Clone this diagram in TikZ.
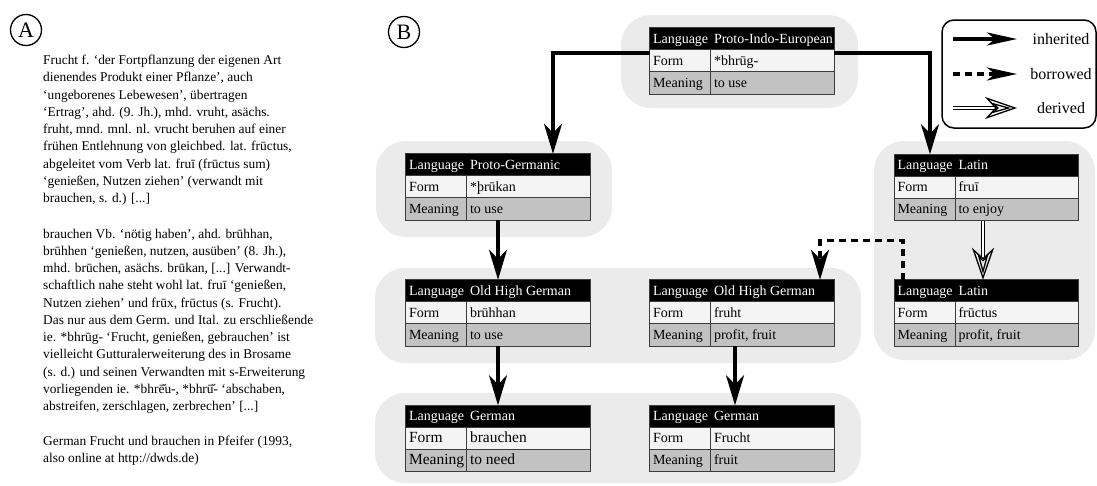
\documentclass[tikz,border=0pt]{standalone}
\usepackage{fontspec}
\setmainfont{Liberation Serif}
\usetikzlibrary{arrows.meta,calc}

\definecolor{blobgray}{HTML}{EBEBEB}
\definecolor{formgray}{HTML}{F4F4F4}
\definecolor{meangray}{HTML}{C2C2C2}
\definecolor{cellgray}{HTML}{3C3C3C}

\tikzset{
  blob/.style={fill=blobgray, rounded corners=30pt},
  langtab/.style={rectangle, minimum width=184pt, minimum height=66pt, inner sep=0pt},
  cellline/.style={draw=cellgray, line width=0.8pt},
  celltext/.style={anchor=base west, inner sep=0pt, font=\fontsize{14}{16}\selectfont},
  entrytext/.style={anchor=north west, inner sep=0pt, align=left, font=\fontsize{13.4}{17.25}\selectfont},
  inherit/.style={line width=3.2pt, -{Stealth[length=30pt,width=18pt,inset=9pt]}},
  borrow/.style={inherit, dash pattern=on 7pt off 5pt},
  derive/.style={double, double distance=2.2pt, line width=1.3pt,
    -{Stealth[open,length=20pt,width=11pt,inset=6pt,sep=-26pt]Stealth[open,length=32pt,width=22pt,inset=10pt]}},
  panel/.style={circle, draw, line width=1.3pt, minimum size=31pt, inner sep=0pt, font=\fontsize{22}{22}\selectfont},
  keytext/.style={font=\fontsize{16}{18}\selectfont, inner sep=0pt}
}

% #1 font of rows 2-3, #2 name, #3 centre, #4 language, #5 form, #6 meaning
\newcommand{\langbox}[6][]{%
  \node[langtab] (#2) at (#3) {};
  \fill[black] (#2.north west) rectangle ([yshift=-22pt]#2.north east);
  \fill[formgray] ([yshift=-22pt]#2.north west) rectangle ([yshift=-44pt]#2.north east);
  \fill[meangray] ([yshift=-44pt]#2.north west) rectangle (#2.south east);
  \draw[cellline] ([yshift=-22pt]#2.north west) -- ([yshift=-22pt]#2.north east)
    ([yshift=-44pt]#2.north west) -- ([yshift=-44pt]#2.north east)
    ([xshift=61pt,yshift=-22pt]#2.north west) -- ([xshift=61pt]#2.south west);
  \draw[cellline] (#2.north west) rectangle (#2.south east);
  \node[celltext,text=white] (#2-l) at ([xshift=3pt,yshift=-15.5pt]#2.north west) {Language};
  \node[celltext,text=white] (#2-lv) at ([xshift=64pt,yshift=-15.5pt]#2.north west) {#4};
  \node[celltext,#1] (#2-f) at ([xshift=3pt,yshift=-37.5pt]#2.north west) {Form};
  \node[celltext,#1] (#2-fv) at ([xshift=64pt,yshift=-37.5pt]#2.north west) {#5};
  \node[celltext,#1] (#2-m) at ([xshift=3pt,yshift=-59.5pt]#2.north west) {Meaning};
  \node[celltext,#1] (#2-mv) at ([xshift=64pt,yshift=-59.5pt]#2.north west) {#6};
}

\begin{document}
\begin{tikzpicture}[x=1pt,y=-1pt]
\useasboundingbox (0,0) rectangle (1097,485);

% panel A: dictionary entries
\node[panel] (panelA) at (26,30) {A};
\node[entrytext] (frucht) at (43,55) {%
Frucht f. ‘der Fortpflanzung der eigenen Art\\
dienendes Produkt einer Pflanze’, auch\\
‘ungeborenes Lebewesen’, übertragen\\
‘Ertrag’, ahd. (9. Jh.), mhd. vruht, asächs.\\
fruht, mnd. mnl. nl. vrucht beruhen auf einer\\
frühen Entlehnung von gleichbed. lat. frūctus,\\
abgeleitet vom Verb lat. fruī (frūctus sum)\\
‘genießen, Nutzen ziehen’ (verwandt mit\\
brauchen, s. d.) [...]};
\node[entrytext] (brauchen) at (43,228.5) {%
brauchen Vb. ‘nötig haben’, ahd. brūhhan,\\
brūhhen ‘genießen, nutzen, ausüben’ (8. Jh.),\\
mhd. brūchen, asächs. brūkan, [...] Verwandt-\\
schaftlich nahe steht wohl lat. fruī ‘genießen,\\
Nutzen ziehen’ und frūx, frūctus (s. Frucht).\\
Das nur aus dem Germ. und Ital. zu erschließende\\
ie. *bhrūg- ‘Frucht, genießen, gebrauchen’ ist\\
vielleicht Gutturalerweiterung des in Brosame\\
(s. d.) und seinen Verwandten mit s-Erweiterung\\
vorliegenden ie. *bhrē̆u-, *bhrū̆- ‘abschaben,\\
abstreifen, zerschlagen, zerbrechen’ [...]};
\node[entrytext] (source) at (43,435.5) {%
German Frucht und brauchen in Pfeifer (1993,\\
also online at http://dwds.de)};

% panel B: etymology graph
\node[panel] (panelB) at (404,32) {B};

\fill[blob] (621,15) rectangle (858,108);
\fill[blob] (376,141) rectangle (612,237);
\fill[blob] (874,141) rectangle (1095,360);
\fill[blob] (375,268) rectangle (861,363);
\fill[blob] (375,393) rectangle (861,483);

\langbox{pie}{742,61}{Proto-Indo-European}{*bhrūg-}{to use}
\langbox{pgm}{498,187}{Proto-Germanic}{*þrūkan}{to use}
\langbox{lat}{986.5,187.5}{Latin}{fruī}{to enjoy}
\langbox{ohgl}{498,313}{Old High German}{brūhhan}{to use}
\langbox{ohgr}{742,313}{Old High German}{fruht}{profit, fruit}
\langbox{latd}{986.5,313}{Latin}{frūctus}{profit, fruit}
\langbox[font=\fontsize{15.5}{17}\selectfont]{gerl}{498,438.5}{German}{brauchen}{to need}
\langbox{gerr}{742,438.5}{German}{Frucht}{fruit}

\draw[inherit] ([yshift=8pt]pie.west) -| ([xshift=55pt]pgm.north);
\draw[inherit] ([yshift=8pt]pie.east) -| ([xshift=-56.5pt]lat.north);
\draw[inherit] (pgm.south) -- (ohgl.north);
\draw[inherit] (ohgl.south) -- (gerl.north);
\draw[inherit] ([xshift=-7pt]ohgr.south) -- ([xshift=-7pt]gerr.north);
\draw[derive] ([xshift=-3.5pt]lat.south) -- ([xshift=-3.5pt]latd.north);
\draw[borrow] ([xshift=-83.5pt]latd.north) -- ++(0,-39) -| ([xshift=78pt]ohgr.north);

% key
\node[draw, line width=1.5pt, rounded corners=12pt, minimum width=154pt, minimum height=108pt] (key) at (1019,74) {};
\coordinate (inh-a) at (953,39);  \coordinate (inh-b) at (1017,39);
\coordinate (bor-a) at (953,74);  \coordinate (bor-b) at (1017,74);
\coordinate (der-a) at (953,108); \coordinate (der-b) at (1017,108);
\draw[inherit, -{Stealth[length=30pt,width=13pt,inset=8pt]}] (inh-a) -- (inh-b);
\draw[borrow, -{Stealth[length=30pt,width=13pt,inset=8pt]}] (bor-a) -- (bor-b);
\draw[derive] (der-a) -- (der-b);
\node[keytext] (inh-t) at (1061,39) {inherited};
\node[keytext] (bor-t) at (1061,74) {borrowed};
\node[keytext] (der-t) at (1061,108) {derived};
\end{tikzpicture}
\end{document}
